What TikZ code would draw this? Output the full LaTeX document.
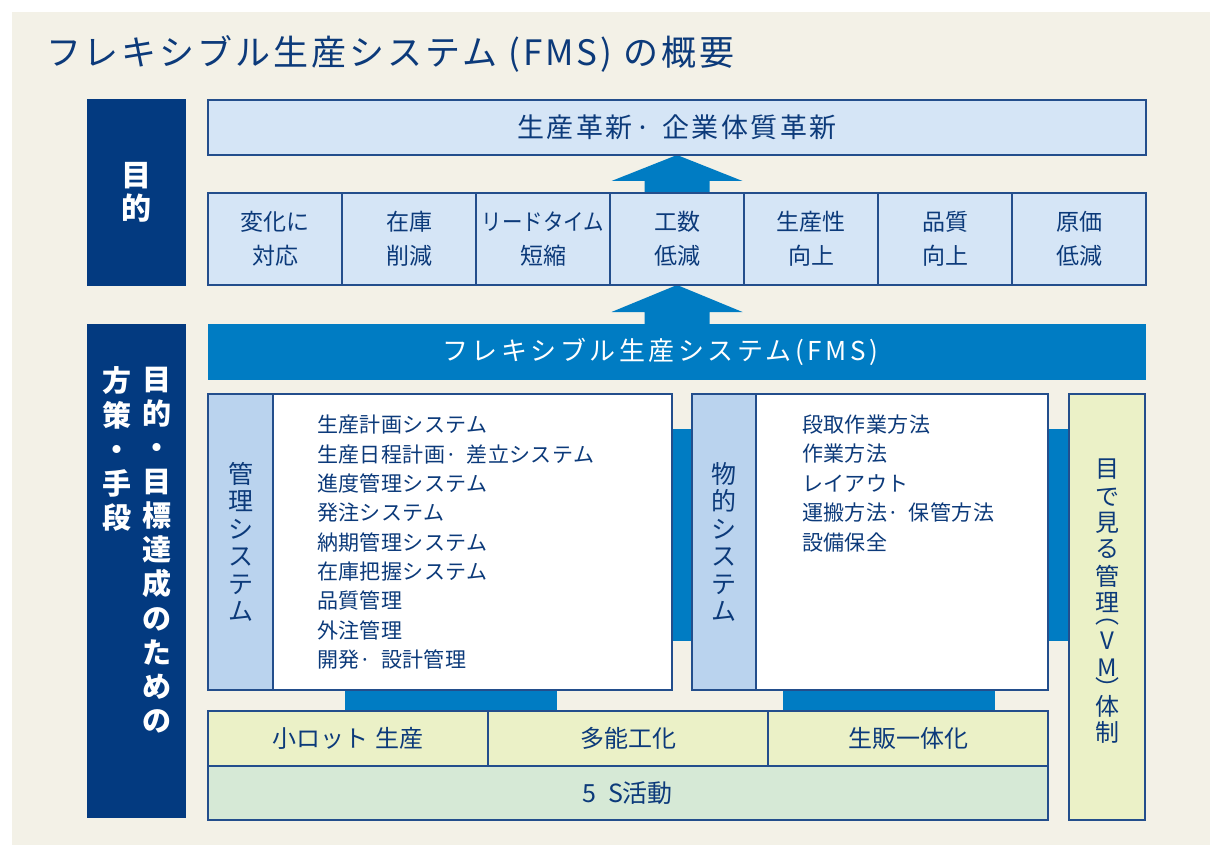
\documentclass[tikz,border=0pt]{standalone}
\usepackage{fontspec}
\setmainfont{Noto Sans CJK JP}
\usetikzlibrary{calc}
\pgfdeclarelayer{back}
\pgfdeclarelayer{mid}
\pgfsetlayers{back,mid,main}
\definecolor{bgbeige}{RGB}{243,241,231}
\definecolor{navy}{RGB}{3,58,128}
\definecolor{fmsblue}{RGB}{0,124,195}
\definecolor{cellblue}{RGB}{213,229,246}
\definecolor{stripblue}{RGB}{186,211,238}
\definecolor{ygreen}{RGB}{235,241,199}
\definecolor{sgreen}{RGB}{214,233,214}
\definecolor{edge}{RGB}{35,78,140}
\definecolor{txt}{RGB}{12,58,122}
\newcommand{\setfs}[2]{\fontsize{#1pt}{#2pt}\selectfont}
\begin{document}
\begin{tikzpicture}[x=1pt,y=-1pt,
  every node/.style={inner sep=0pt, outer sep=0pt},
  frame/.style={draw=edge, line width=1.2pt},
  navybox/.style={fill=navy, align=center, text=white},
  goalcell/.style={frame, fill=cellblue, minimum width=134pt, minimum height=92pt, align=center, text=txt, font=\setfs{23}{34}},
  panel/.style={frame, fill=white},
  strip/.style={frame, fill=stripblue, align=center, text=txt, font=\setfs{25}{27.5}},
  listitem/.style={anchor=west, text=txt, font=\setfs{21}{24}\addfontfeature{LetterSpace=2}},
  basecell/.style={frame, fill=ygreen, minimum width=280pt, minimum height=55pt, text=txt, font=\setfs{24}{28}},
  vmchar/.style={text=txt, font=\setfs{24}{24}}
]
\useasboundingbox (0,0) rectangle (1210,845);
\begin{pgfonlayer}{back}
  \fill[white] (0,0) rectangle (1210,845);
  \fill[bgbeige] (12,12) rectangle (1210,845);
\end{pgfonlayer}

% title
\node[anchor=west, text=txt, font=\setfs{35}{40}\addfontfeature{LetterSpace=8.5}] (title) at (46,54) {フレキシブル生産システム (FMS) の概要};

% left labels
\node[navybox, minimum width=99pt, minimum height=187pt, font=\setfs{30}{33}\bfseries] (goal) at (136.5,192.5) {目\\的};
\node[navybox, minimum width=99pt, minimum height=494pt] (means) at (136.5,571) {};
\node[anchor=north, align=center, text=white, font=\setfs{29}{34.1}\bfseries] (meansR) at (157,367) {目\\的\\・\\目\\標\\達\\成\\の\\た\\め\\の};
\node[anchor=north, align=center, text=white, font=\setfs{29}{34.1}\bfseries] (meansL) at (117,367) {方\\策\\・\\手\\段};

% goals
\node[frame, fill=cellblue, minimum width=938pt, minimum height=55pt, text=txt, font=\setfs{27}{30}\addfontfeature{LetterSpace=9}] (top) at (677,127.5) {生産革新·\hspace{0.45em}企業体質革新};
\node[goalcell] (c1) at (275,239) {変化に\\対応};
\node[goalcell] (c2) at (409,239) {在庫\\削減};
\node[goalcell] (c3) at (543,239) {\scalebox{0.89}[1]{リードタイム}\\短縮};
\node[goalcell] (c4) at (677,239) {工数\\低減};
\node[goalcell] (c5) at (811,239) {生産性\\向上};
\node[goalcell] (c6) at (945,239) {品質\\向上};
\node[goalcell] (c7) at (1079,239) {原価\\低減};

% FMS bar
\node[fill=fmsblue, minimum width=938pt, minimum height=56pt] (fms) at (677,352) {};
\node[text=white, font=\setfs{26}{30}\addfontfeature{LetterSpace=13.5}] (fmstxt) at (660,352) {フレキシブル生産システム(FMS)};

% panels
\node[panel, minimum width=464pt, minimum height=296pt] (kanri) at (440,542) {};
\node[strip, minimum width=65pt, minimum height=296pt] (kanristrip) at (240.5,542) {管\\理\\シ\\ス\\テ\\ム};
\node[panel, minimum width=356pt, minimum height=296pt] (butsu) at (870,542) {};
\node[strip, minimum width=64pt, minimum height=296pt] (butsustrip) at (724,542) {物\\的\\シ\\ス\\テ\\ム};
\node[frame, fill=ygreen, minimum width=76pt, minimum height=426pt] (vm) at (1107,607) {};

\foreach \t [count=\i] in {生産計画システム, 生産日程計画·\hspace{0.45em}差立システム, 進度管理システム, 発注システム, 納期管理システム, 在庫把握システム, 品質管理, 外注管理, 開発·\hspace{0.45em}設計管理}
  \node[listitem] (k\i) at (317,{425+29.3*(\i-1)}) {\t};
\foreach \t [count=\i] in {段取作業方法, 作業方法, レイアウト, 運搬方法·\hspace{0.45em}保管方法, 設備保全}
  \node[listitem] (b\i) at (802,{424.5+29.4*(\i-1)}) {\t};

\foreach \c/\yy [count=\i] in {目/469,で/497,見/522.5,る/549,管/576,理/602.5,︵/622.5,V/641,M/668,︶/687,体/706,制/732.5}
  \node[vmchar] (vm\i) at (1107,\yy) {\c};

% base
\node[basecell] (lot) at (348,738.5) {\raisebox{-2pt}{小ロット\hspace{0.3em}生産}};
\node[basecell] (multi) at (628,738.5) {\raisebox{-2pt}{多能工化}};
\node[basecell] (sales) at (908,738.5) {\raisebox{-2pt}{生販一体化}};
\node[frame, fill=sgreen, minimum width=840pt, minimum height=54pt, text=txt, font=\setfs{25}{28}] (fives) at (628,793) {\raisebox{-3pt}{5\hspace{0.45em}S活動}};

% connectors
\begin{pgfonlayer}{mid}
  \fill[fmsblue] ($(c4.north)+(-32.5,0)$) -- ($(c4.north)+(-32.5,-12)$) -- ($(c4.north)+(-65.5,-12)$)
     -- (top.south -| c4.north) -- ($(c4.north)+(65.5,-12)$) -- ($(c4.north)+(32.5,-12)$) -- ($(c4.north)+(32.5,0)$) -- cycle;
  \fill[fmsblue] ($(fms.north)+(-32.5,0)$) -- ($(fms.north)+(-32.5,-12)$) -- ($(fms.north)+(-65.5,-12)$)
     -- (c4.south -| fms.north) -- ($(fms.north)+(65.5,-12)$) -- ($(fms.north)+(32.5,-12)$) -- ($(fms.north)+(32.5,0)$) -- cycle;
  \fill[fmsblue] ($(kanri.east)+(0,-113)$) rectangle ($(butsu.west)+(0,99)$);
  \fill[fmsblue] ($(butsu.east)+(0,-113)$) rectangle ($(vm.west |- butsu.east)+(0,99)$);
  \fill[fmsblue] ($(kanri.south)+(-95,0)$) rectangle ($(kanri.south |- lot.north)+(117,0)$);
  \fill[fmsblue] ($(butsu.south)+(-87,0)$) rectangle ($(butsu.south |- sales.north)+(125,0)$);
\end{pgfonlayer}
\end{tikzpicture}
\end{document}
